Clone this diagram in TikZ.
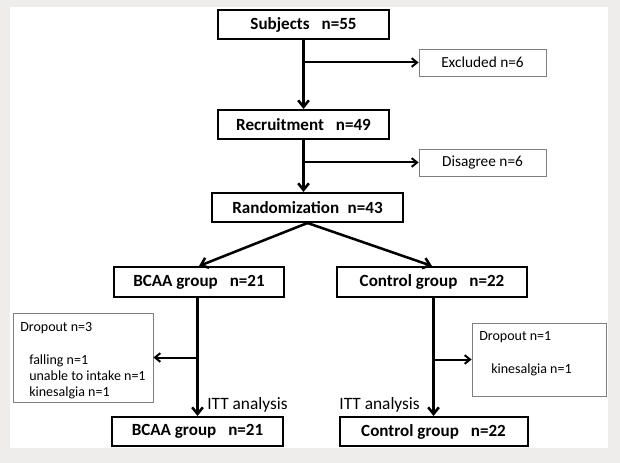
\documentclass[tikz,border=0pt]{standalone}
\usepackage{fontspec}
\setmainfont{Carlito}
\usetikzlibrary{arrows.meta}
\definecolor{bgc}{HTML}{EFEDEB}
\definecolor{thin}{HTML}{7F7F7F}
\newcommand{\gapx}{\hspace{0.7em}}
\begin{document}
\begin{tikzpicture}[x=0.75pt,y=-0.75pt,
  bigbox/.style={draw, line width=1.5pt, inner sep=0pt, font=\bfseries\fontsize{12.8}{14}\selectfont},
  smallbox/.style={draw=thin, line width=0.6pt, inner sep=0pt, font=\fontsize{11.5}{13}\selectfont},
  smalltext/.style={inner sep=0pt, anchor=base west, font=\fontsize{10.5}{12}\selectfont},
  itt/.style={inner sep=0pt, anchor=base, font=\fontsize{13}{15}\selectfont},
  mainarr/.style={line width=1.9pt, -{Straight Barb[length=5pt,width=8pt,line width=1.9pt]}},
  sidearr/.style={line width=1.5pt, -{Straight Barb[length=4pt,width=6.5pt,line width=1.5pt]}}]
\fill[bgc] (0,0) rectangle (620,463);
\fill[white] (10,7) rectangle (608,448);
\useasboundingbox (0,0) rectangle (620,463);

\node[bigbox, minimum width=128.25pt, minimum height=21.75pt] (subj) at (303.5,24.5) {Subjects\gapx n=55};
\node[bigbox, minimum width=128.25pt, minimum height=21.75pt] (recr) at (303.5,124.5) {Recruitment\gapx n=49};
\node[bigbox, minimum width=143.25pt, minimum height=21.75pt] (rand) at (307.5,207.5) {Randomization\hspace{0.5em}n=43};
\node[bigbox, minimum width=127.5pt, minimum height=22.5pt] (bcaa) at (199,282) {BCAA group\gapx n=21};
\node[bigbox, minimum width=142.5pt, minimum height=22.5pt] (ctrl) at (432,282) {Control group\gapx n=22};
\node[bigbox, minimum width=128.25pt, minimum height=21.75pt] (bcaab) at (197.5,431.5) {BCAA group\gapx n=21};
\node[bigbox, minimum width=141pt, minimum height=21.75pt] (ctrlb) at (433.5,431.5) {Control group\gapx n=22};

\node[smallbox, minimum width=95.25pt, minimum height=20.25pt] (excl) at (482.5,62.5) {Excluded n=6};
\node[smallbox, minimum width=95.25pt, minimum height=20.25pt] (disa) at (482.5,162.5) {Disagree n=6};
\node[smallbox, minimum width=105pt, minimum height=66.75pt] (drop3) at (83,357.5) {};
\node[smallbox, minimum width=100.5pt, minimum height=54.75pt] (drop1) at (539,359.5) {};

\node[smalltext] (d3a) at (20,331) {Dropout n=3};
\node[smalltext] (d3b) at (29,364) {falling n=1};
\node[smalltext] (d3c) at (29,380) {unable to intake n=1};
\node[smalltext] (d3d) at (29,396) {kinesalgia n=1};
\node[smalltext] (d1a) at (479,340) {Dropout n=1};
\node[smalltext] (d1b) at (491,373) {kinesalgia n=1};

\node[itt, anchor=base west] (ittl) at (207,409) {ITT analysis};
\node[itt, anchor=base east] (ittr) at (420,409) {ITT analysis};

\draw[mainarr] (subj.south) -- (recr.north);
\draw[sidearr] (subj.south |- excl.west) -- (excl.west);
\draw[mainarr] (recr.south) -- (recr.south |- rand.north);
\draw[sidearr] (recr.south |- disa.west) -- (disa.west);
\draw[mainarr] (rand.south) -- (bcaa.north);
\draw[mainarr] (rand.south) -- (ctrl.north);
\draw[mainarr] (bcaab.north |- bcaa.south) -- (bcaab.north);
\draw[sidearr] (bcaab.north |- drop3.east) -- (drop3.east);
\draw[mainarr] (ctrlb.north |- ctrl.south) -- (ctrlb.north);
\draw[sidearr] (ctrlb.north |- drop1.west) -- (drop1.west);
\end{tikzpicture}
\end{document}
